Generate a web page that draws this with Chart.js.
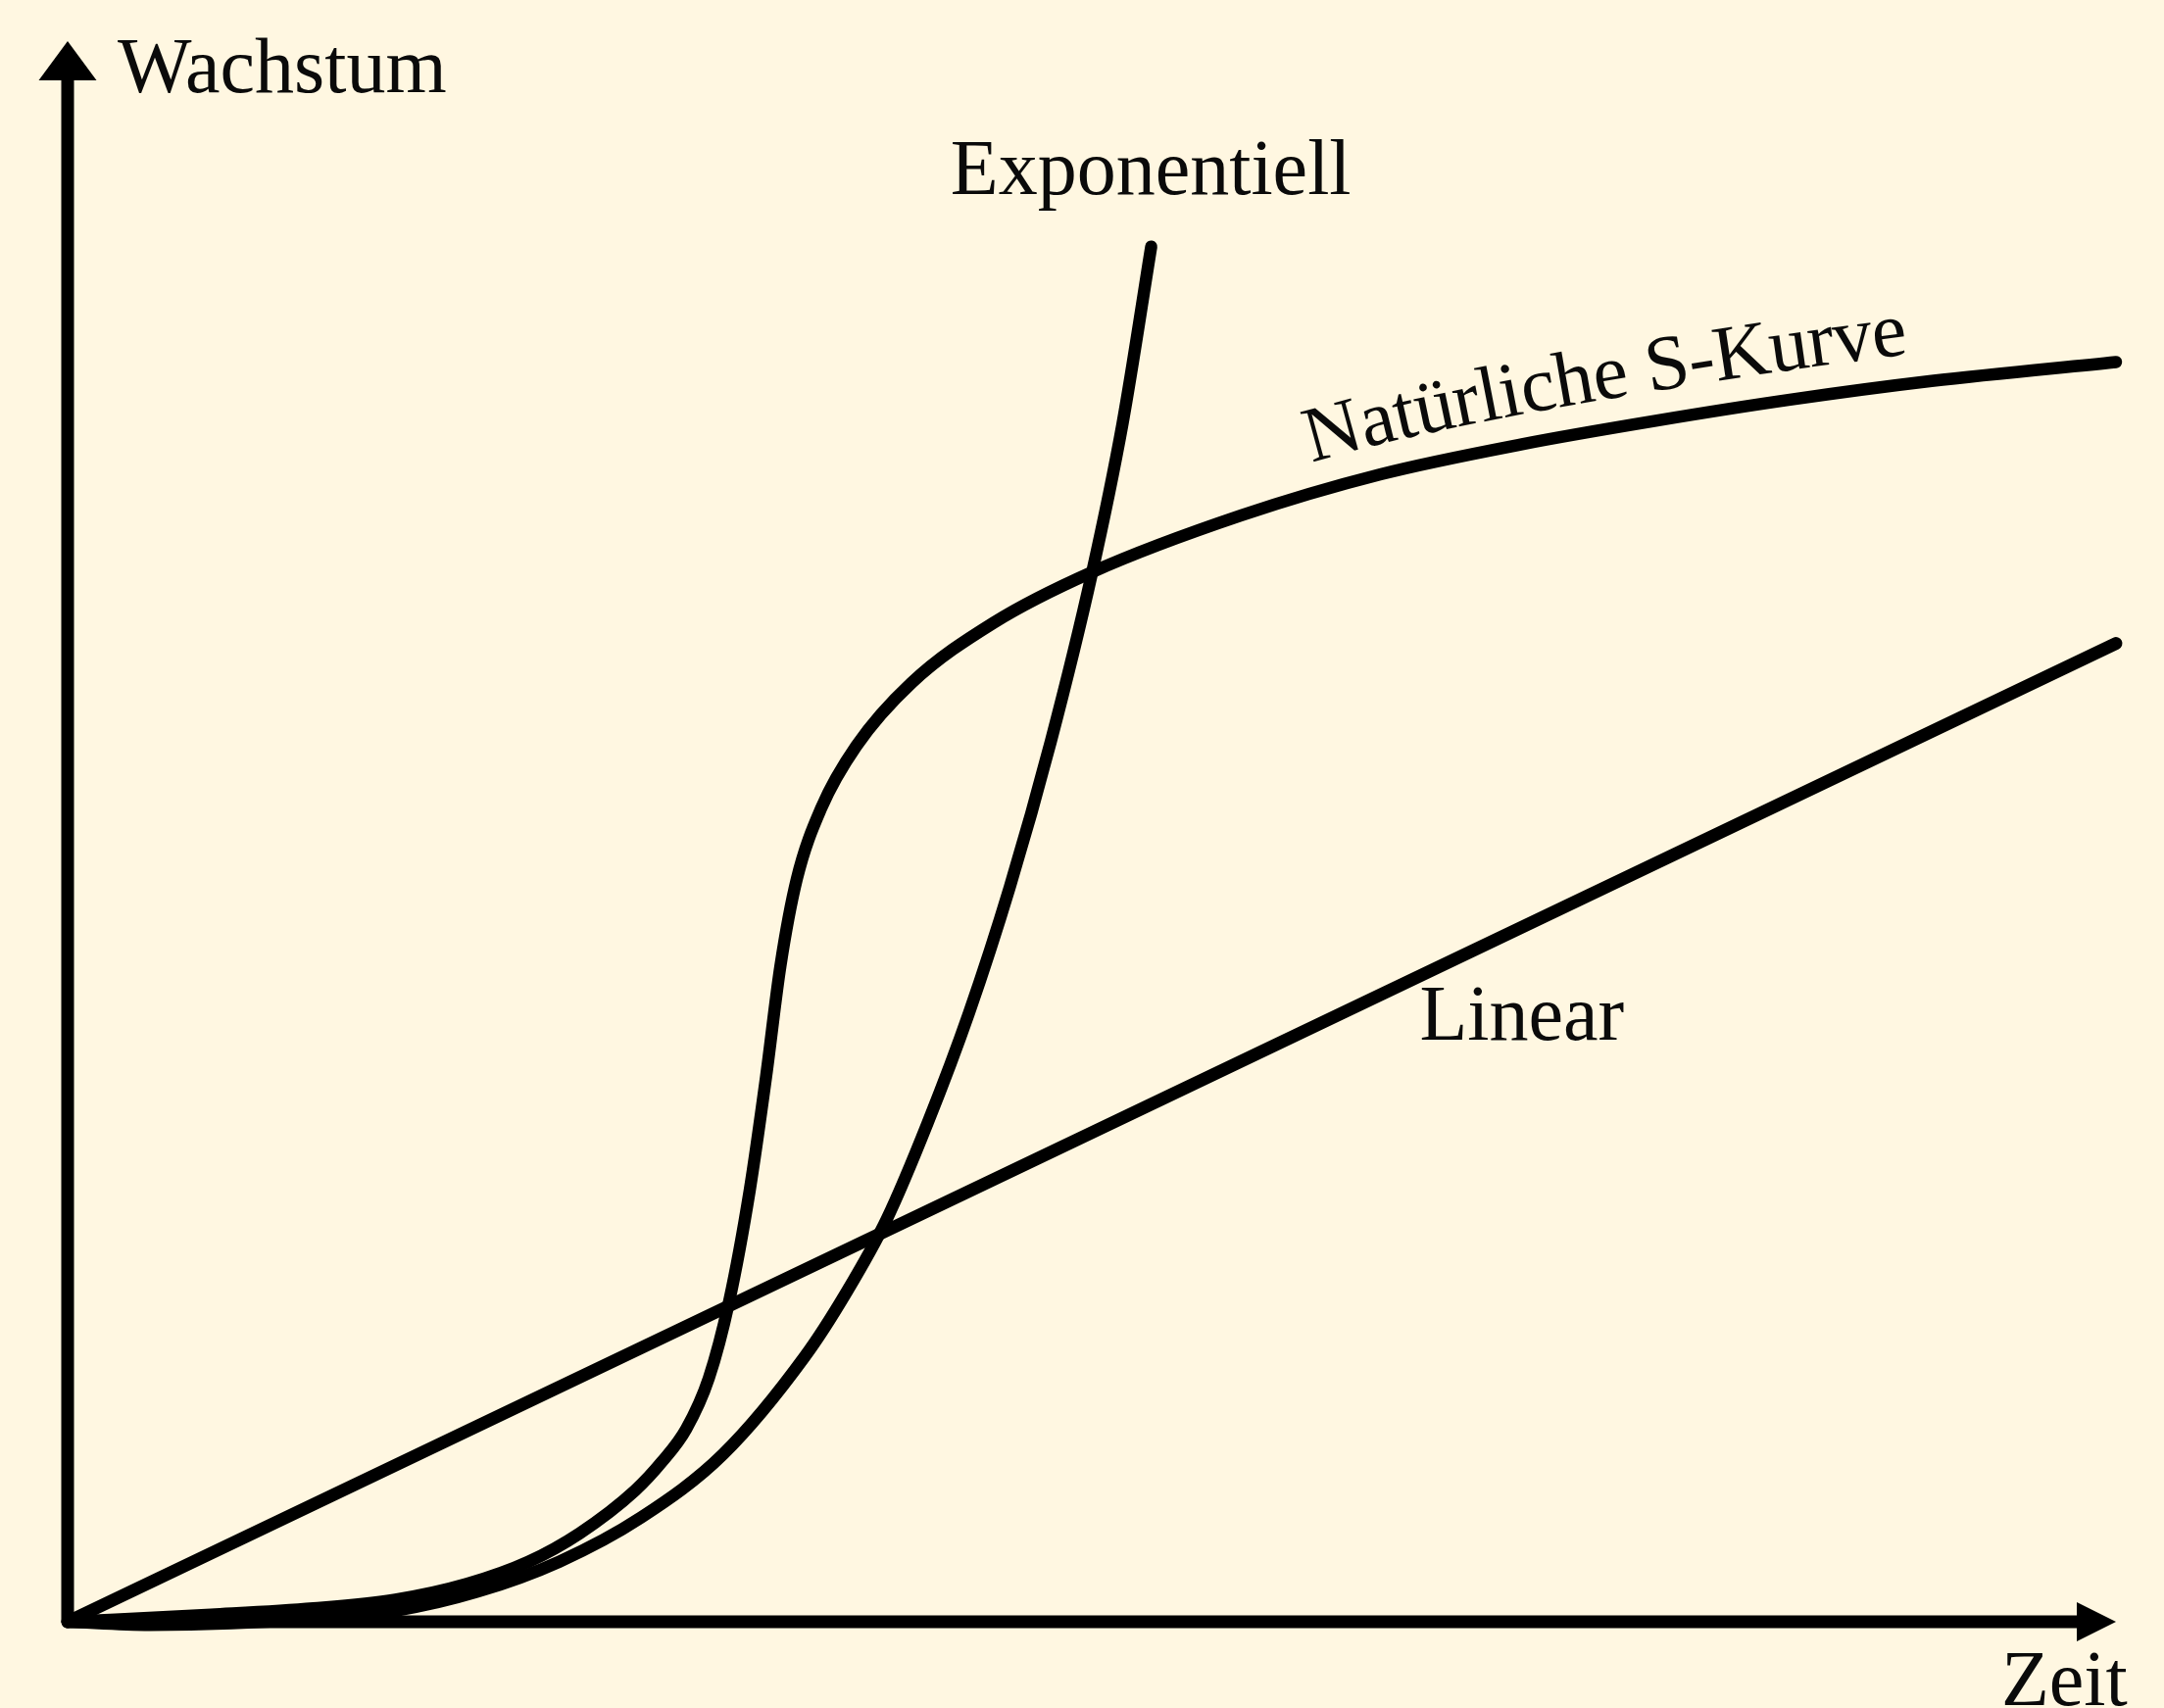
<!DOCTYPE html>
<html>
<head>
<meta charset="utf-8">
<script src="https://cdn.jsdelivr.net/npm/chart.js@4/dist/chart.umd.min.js"></script>
<style>
  html, body { margin: 0; padding: 0; background: #FFF7E1; }
  canvas { display: block; }
</style>
</head>
<body>
<canvas id="c" width="2208" height="1743"></canvas>
<script>
// ---- data (x = Zeit, y = Wachstum, arbitrary units 0..100) ----
const linX = [0, 100];
const linY = [0, 61.9];

const expX = [0, 4, 8, 12, 16, 20, 24, 28, 32, 36, 38, 40, 42, 44, 46, 48, 50, 51.5, 52.9];
const expY = [0, -0.2, -0.1, 0.2, 0.7, 1.9, 3.8, 6.6, 10.6, 16.8, 20.8, 25.5, 31.6, 38.5, 46.5, 55.7, 66.3, 75.8, 87];

const sX = [0, 7, 12, 16, 19.5, 22.5, 25, 27.7, 29.0, 30.2, 31.3, 32.3, 33.3, 34.1, 34.8, 35.6, 36.8, 38.5, 41.2, 45.2, 50, 57.3, 64.1, 71, 77.6, 84, 91, 100];
const sY = [0, 0.45, 0.85, 1.4, 2.4, 3.8, 5.6, 8.3, 10.1, 12.2, 15.4, 20.3, 27.3, 34.5, 41.5, 47.0, 51.5, 55.4, 59.4, 63.2, 66.4, 70.0, 72.6, 74.5, 76.0, 77.3, 78.5, 79.7];

const seriesNames = ['Linear', 'Exponentiell', 'Natürliche S-Kurve'];

// axis titles and curve labels (text)
const labelText = ['Wachstum', 'Exponentiell', 'Linear', 'Zeit'];
const labelX = [2.44, 43.1, 66.0, 94.4];
const labelY = [96.8, 90.3, 36.8, -5.3];
const curveLabel = 'Natürliche S-Kurve';
const curveLabelStartX = 61.1;

// ---- styling ----
const BG = '#FFF7E1';
const INK = '#000000';
const FONT = '80px "Liberation Serif", "Times New Roman", serif';

function toXY(xs, ys) { return xs.map((x, i) => ({ x: x, y: ys[i] })); }

function sampleCurve(meta) {
  const pts = meta.data;
  const out = [];
  for (let i = 0; i < pts.length - 1; i++) {
    const a = pts[i], b = pts[i + 1];
    const c1x = (a.cp2x !== undefined) ? a.cp2x : a.x;
    const c1y = (a.cp2y !== undefined) ? a.cp2y : a.y;
    const c2x = (b.cp1x !== undefined) ? b.cp1x : b.x;
    const c2y = (b.cp1y !== undefined) ? b.cp1y : b.y;
    const n = 30;
    for (let k = 0; k < n; k++) {
      const t = k / n, u = 1 - t;
      out.push({
        x: u*u*u*a.x + 3*u*u*t*c1x + 3*u*t*t*c2x + t*t*t*b.x,
        y: u*u*u*a.y + 3*u*u*t*c1y + 3*u*t*t*c2y + t*t*t*b.y
      });
    }
  }
  const l = pts[pts.length - 1];
  out.push({ x: l.x, y: l.y });
  return out;
}

function drawTextOnCurve(ctx, center, startPx, offset, text) {
  const off = center.map((p, i) => {
    const a = center[Math.max(0, i - 1)], b = center[Math.min(center.length - 1, i + 1)];
    let tx = b.x - a.x, ty = b.y - a.y;
    const len = Math.hypot(tx, ty) || 1;
    tx /= len; ty /= len;
    return { x: p.x + ty * offset, y: p.y - tx * offset };
  });
  const cum = [0];
  for (let i = 1; i < off.length; i++) {
    cum.push(cum[i - 1] + Math.hypot(off[i].x - off[i - 1].x, off[i].y - off[i - 1].y));
  }
  let idx = center.findIndex(p => p.x >= startPx);
  if (idx < 0) idx = 0;
  let s = cum[idx];
  function at(sv) {
    let i = 1;
    while (i < cum.length - 1 && cum[i] < sv) i++;
    const a = off[i - 1], b = off[i];
    const seg = cum[i] - cum[i - 1] || 1;
    const t = (sv - cum[i - 1]) / seg;
    return { x: a.x + (b.x - a.x) * t, y: a.y + (b.y - a.y) * t, ang: Math.atan2(b.y - a.y, b.x - a.x) };
  }
  ctx.textAlign = 'center';
  for (const ch of text) {
    const w = ctx.measureText(ch).width * 0.985;
    const p = at(s + w / 2);
    ctx.save();
    ctx.translate(p.x, p.y);
    ctx.rotate(p.ang);
    ctx.fillText(ch, 0, 0);
    ctx.restore();
    s += w;
  }
}

const decorPlugin = {
  id: 'decor',
  beforeDraw(chart) {
    const ctx = chart.ctx;
    ctx.save();
    ctx.fillStyle = BG;
    ctx.fillRect(0, 0, chart.width, chart.height);
    ctx.restore();
  },
  afterDatasetsDraw(chart) {
    const ctx = chart.ctx;
    const xs = chart.scales.x, ys = chart.scales.y;
    const x0 = xs.getPixelForValue(0), y0 = ys.getPixelForValue(0);
    const xe = xs.getPixelForValue(100), ye = ys.getPixelForValue(100);
    ctx.save();
    // axes
    ctx.strokeStyle = INK;
    ctx.lineWidth = 13;
    ctx.lineJoin = 'round';
    ctx.lineCap = 'butt';
    ctx.beginPath();
    ctx.moveTo(x0, ye + 38);
    ctx.lineTo(x0, y0);
    ctx.lineTo(xe - 38, y0);
    ctx.stroke();
    ctx.fillStyle = INK;
    ctx.beginPath();
    ctx.moveTo(x0, ye);
    ctx.lineTo(x0 - 29.5, ye + 40);
    ctx.lineTo(x0 + 29.5, ye + 40);
    ctx.closePath();
    ctx.fill();
    ctx.beginPath();
    ctx.moveTo(xe, y0);
    ctx.lineTo(xe - 40, y0 - 20);
    ctx.lineTo(xe - 40, y0 + 20);
    ctx.closePath();
    ctx.fill();

    // labels
    ctx.font = FONT;
    ctx.fillStyle = '#0a0a0a';
    ctx.textBaseline = 'alphabetic';
    ctx.textAlign = 'left';
    labelText.forEach((t, i) => {
      ctx.fillText(t, xs.getPixelForValue(labelX[i]), ys.getPixelForValue(labelY[i]));
    });

    // text along the S-curve
    const meta = chart.getDatasetMeta(2);
    const samples = sampleCurve(meta);
    drawTextOnCurve(ctx, samples, xs.getPixelForValue(curveLabelStartX), 30, curveLabel);
    ctx.restore();
  }
};

const common = {
  borderColor: INK,
  backgroundColor: INK,
  pointRadius: 0,
  pointHoverRadius: 0,
  borderCapStyle: 'round',
  borderJoinStyle: 'round',
  fill: false,
  clip: false
};

new Chart(document.getElementById('c'), {
  type: 'line',
  data: {
    datasets: [
      Object.assign({ label: seriesNames[0], data: toXY(linX, linY), borderWidth: 13, tension: 0 }, common),
      Object.assign({ label: seriesNames[1], data: toXY(expX, expY), borderWidth: 12.5, cubicInterpolationMode: 'monotone' }, common),
      Object.assign({ label: seriesNames[2], data: toXY(sX, sY), borderWidth: 12.5, cubicInterpolationMode: 'monotone' }, common)
    ]
  },
  options: {
    responsive: false,
    devicePixelRatio: 1,
    animation: false,
    events: [],
    layout: { padding: { left: 69, right: 49, top: 42, bottom: 88 } },
    scales: {
      x: { type: 'linear', min: 0, max: 100, display: false },
      y: { type: 'linear', min: 0, max: 100, display: false }
    },
    plugins: { legend: { display: false }, tooltip: { enabled: false } }
  },
  plugins: [decorPlugin]
});
</script>
</body>
</html>
